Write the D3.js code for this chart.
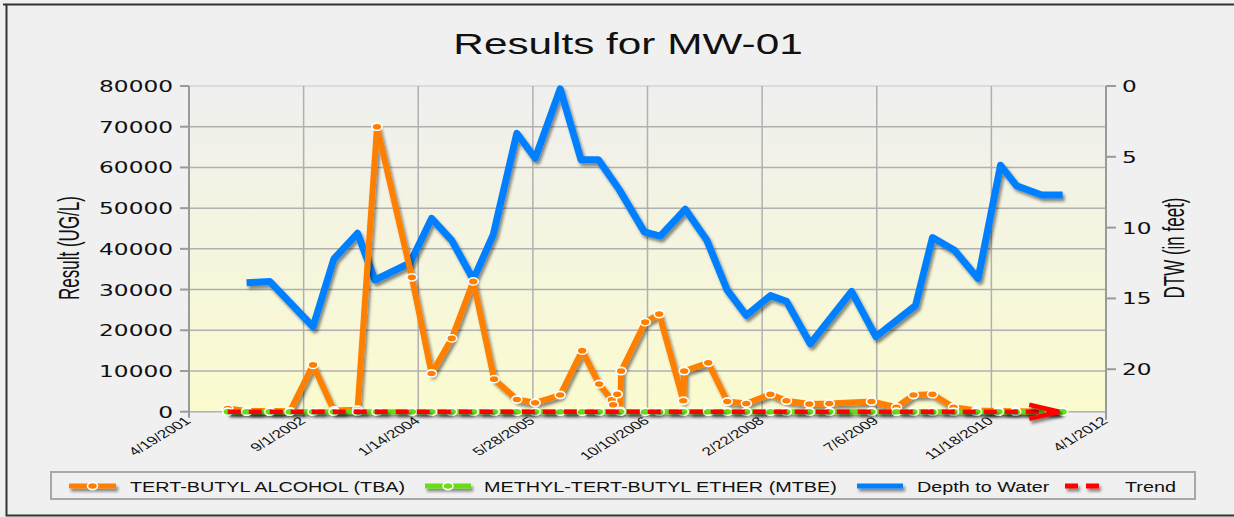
<!DOCTYPE html>
<html><head><meta charset="utf-8">
<script src="https://cdn.jsdelivr.net/npm/d3@7"></script>
<style>body{margin:0;background:#f0f0f0}svg{display:block}text{font-family:"Liberation Sans",Arial,sans-serif;fill:#111}</style>
</head><body><svg id="c" width="1234" height="517"></svg>
<script>
const titleText = "Results for MW-01";
const leftAxisTitle = "Result (UG/L)";
const rightAxisTitle = "DTW (in feet)";
const xTickDates = ["2001-04-19","2002-09-01","2004-01-14","2005-05-28","2006-10-10","2008-02-22","2009-07-06","2010-11-18","2012-04-01"];
const leftTicks = [0,10000,20000,30000,40000,50000,60000,70000,80000];
const rightTicks = [0,5,10,15,20];
const seriesNames = ["TERT-BUTYL ALCOHOL (TBA)","METHYL-TERT-BUTYL ETHER (MTBE)","Depth to Water","Trend"];

const tbaDates = ["2001-10-05","2001-12-26","2002-04-06","2002-07-03","2002-10-12","2003-01-11","2003-04-24","2003-07-18","2003-12-17","2004-03-12","2004-06-08","2004-09-10","2004-12-10","2005-03-19","2005-06-07","2005-09-24","2005-12-29","2006-03-13","2006-05-07","2006-05-13","2006-05-31","2006-06-13","2006-06-17","2006-09-30","2006-11-30","2007-03-15","2007-03-19","2007-07-02","2007-09-23","2007-12-15","2008-03-29","2008-06-07","2008-09-15","2008-12-11","2009-06-13","2009-09-30","2009-12-13","2010-03-06","2010-06-06","2010-09-14","2010-12-19","2011-03-04","2011-06-21"];
const tbaValues = [800,200,150,100,11500,300,500,70000,33000,9400,18000,32000,8000,3000,2200,4100,15000,6800,2900,1700,4300,200,10000,22000,24000,2700,10000,12000,2500,2000,4300,2700,1900,2000,2500,1100,4100,4300,1100,300,200,100,50];

const mtbeDates = ["2001-10-05","2001-12-26","2002-04-06","2002-07-03","2002-10-12","2003-01-11","2003-04-24","2003-07-18","2003-12-17","2004-03-12","2004-06-08","2004-09-10","2004-12-10","2005-03-19","2005-06-07","2005-09-24","2005-12-29","2006-03-13","2006-06-13","2006-09-30","2006-11-30","2007-03-15","2007-07-02","2007-09-23","2007-12-15","2008-03-29","2008-06-07","2008-09-15","2008-12-11","2009-06-13","2009-09-30","2009-12-13","2010-03-06","2010-06-06","2010-09-14","2010-12-19","2011-03-04","2011-06-21","2011-09-25"];
const mtbeValues = [0,0,0,0,0,0,0,0,0,0,0,0,0,0,0,0,0,0,0,0,0,0,0,0,0,0,0,0,0,0,0,0,0,0,0,0,0,0,0];

const dtwDates = ["2001-12-26","2002-04-06","2002-10-12","2003-01-11","2003-04-24","2003-07-09","2003-12-09","2004-03-12","2004-06-08","2004-09-10","2004-12-06","2005-03-19","2005-06-07","2005-09-24","2005-12-24","2006-03-10","2006-06-08","2006-09-26","2006-12-04","2007-03-24","2007-06-26","2007-09-22","2007-12-15","2008-03-29","2008-06-07","2008-09-19","2009-03-18","2009-07-02","2009-12-22","2010-03-06","2010-06-10","2010-09-21","2010-12-28","2011-03-08","2011-06-25","2011-09-25"];
const dtwValues = [13.9,13.8,17.0,12.2,10.4,13.7,12.5,9.35,10.9,13.66,10.5,3.34,5.1,0.2,5.2,5.2,7.3,10.3,10.6,8.7,10.9,14.4,16.2,14.8,15.2,18.2,14.5,17.7,15.5,10.7,11.6,13.6,5.6,7.05,7.7,7.7];

const trendDates = ["2001-10-05","2011-09-10"];
const trendValues = [0,0];

const colors = {tba:"#ff8000", mtbe:"#66e010", dtw:"#0080ff", trend:"#ff0000"};

const parse = d3.timeParse("%Y-%m-%d");
const fmt = d => (d.getMonth()+1)+"/"+d.getDate()+"/"+d.getFullYear();
const svg = d3.select("#c");
const W = 1234, H = 517;
const L = 189, R = 1106, T = 86, B = 411.7;

const x = d3.scaleTime().domain([parse(xTickDates[0]), parse(xTickDates[xTickDates.length-1])]).range([L, R]);
const yL = d3.scaleLinear().domain([0, 80000]).range([B, T]);
const yR = d3.scaleLinear().domain([0, 23]).range([T, B]);

const defs = svg.append("defs");
const grad = defs.append("linearGradient").attr("id","bg").attr("x1",0).attr("y1",0).attr("x2",0).attr("y2",1);
grad.append("stop").attr("offset","0%").attr("stop-color","#efefef");
grad.append("stop").attr("offset","100%").attr("stop-color","#fbfbcf");
const f = defs.append("filter").attr("id","sh").attr("filterUnits","userSpaceOnUse")
  .attr("x",0).attr("y",0).attr("width",W).attr("height",H);
f.append("feDropShadow").attr("dx",2).attr("dy",3).attr("stdDeviation",1.6).attr("flood-color","#000").attr("flood-opacity",0.45);

svg.append("rect").attr("width",W).attr("height",H).attr("fill","#f0f0f0");
svg.append("path").attr("d",`M3,4.5H1234M6.5,4V515.5H1234`).attr("fill","none").attr("stroke","#333").attr("stroke-width",2);

function stretchText(parent, px, py, str, size, anchor, rot, family, s) {
  const g = parent.append("g").attr("transform", `translate(${px},${py}) scale(${s||1.5},1)` + (rot ? ` rotate(${rot})` : ""));
  const t = g.append("text").attr("text-anchor", anchor).attr("font-size", size).text(str);
  if (family) t.style("font-family", family);
  return t;
}

// title
stretchText(svg, 628, 54, titleText, 30, "middle", 0, null, 1.41);

// plot background
svg.append("rect").attr("x",L).attr("y",T).attr("width",R-L).attr("height",B-T).attr("fill","url(#bg)");

// grid
const grid = svg.append("g").attr("stroke","#b0b0b0").attr("stroke-width",1.5);
grid.selectAll(".h").data(leftTicks).join("line")
  .attr("x1",L).attr("x2",R).attr("y1",d=>yL(d)).attr("y2",d=>yL(d))
  .attr("stroke", d => d===80000 ? "#d4d4d4" : "#b0b0b0");
grid.selectAll(".v").data(xTickDates.map(parse)).join("line")
  .attr("x1",d=>x(d)).attr("x2",d=>x(d)).attr("y1",T).attr("y2",B+5);

// axes
const ax = svg.append("g").attr("stroke","#9a9a9a").attr("stroke-width",2);
ax.append("line").attr("x1",L).attr("x2",L).attr("y1",T).attr("y2",B+6);
ax.selectAll(".lt").data(leftTicks).join("line").attr("x1",L-9).attr("x2",L).attr("y1",d=>yL(d)).attr("y2",d=>yL(d));
ax.append("line").attr("x1",R).attr("x2",R).attr("y1",T).attr("y2",B+8);
ax.selectAll(".rt").data(rightTicks).join("line").attr("x1",R).attr("x2",R+10).attr("y1",d=>yR(d)).attr("y2",d=>yR(d));

const lab = svg.append("g");
leftTicks.forEach(v => stretchText(lab, L-16, yL(v)+6, String(v), 15.5, "end", 0, "DejaVu Sans"));
rightTicks.forEach(v => stretchText(lab, R+16, yR(v)+6, String(v), 15.5, "start", 0, "DejaVu Sans"));
xTickDates.forEach(s => stretchText(lab, x(parse(s))+3, 422, fmt(parse(s)), 11.5, "end", -42));

// axis titles
stretchText(svg, 79, 248, leftAxisTitle, 17, "middle", -90, null, 1.75);
stretchText(svg, 1184, 248, rightAxisTitle, 17, "middle", -90, null, 1.75);

// series
const lineL = d3.line().x(d=>x(d.d)).y(d=>yL(d.v));
const lineR = d3.line().x(d=>x(d.d)).y(d=>yR(d.v));
const tba = tbaDates.map((s,i)=>({d:parse(s), v:tbaValues[i]}));
const mtbe = mtbeDates.map((s,i)=>({d:parse(s), v:mtbeValues[i]}));
const dtw = dtwDates.map((s,i)=>({d:parse(s), v:dtwValues[i]}));
const trend = trendDates.map((s,i)=>({d:parse(s), v:trendValues[i]}));

const plot = svg.append("g");
plot.append("path").datum(dtw).attr("d",lineR).attr("fill","none").attr("stroke",colors.dtw).attr("stroke-width",7).attr("stroke-linejoin","round").attr("filter","url(#sh)");
plot.append("path").datum(tba).attr("d",lineL).attr("fill","none").attr("stroke",colors.tba).attr("stroke-width",6).attr("stroke-linejoin","round").attr("filter","url(#sh)");
plot.append("g").selectAll("ellipse").data(tba).join("ellipse")
  .attr("cx",d=>x(d.d)).attr("cy",d=>yL(d.v)).attr("rx",5).attr("ry",3.6)
  .attr("fill",colors.tba).attr("stroke","#fff").attr("stroke-width",1.6);
plot.append("path").datum(mtbe).attr("d",lineL).attr("fill","none").attr("stroke",colors.mtbe).attr("stroke-width",5).attr("filter","url(#sh)");
plot.append("g").selectAll("ellipse").data(mtbe).join("ellipse")
  .attr("cx",d=>x(d.d)).attr("cy",d=>yL(d.v)).attr("rx",5).attr("ry",3.6)
  .attr("fill",colors.mtbe).attr("stroke","#fff").attr("stroke-width",1.6);
plot.append("path").datum(trend).attr("d",lineL).attr("fill","none").attr("stroke",colors.trend).attr("stroke-width",4.5).attr("stroke-dasharray","13,8").attr("filter","url(#sh)");
const tEnd = trend[trend.length-1];
const ex = x(tEnd.d), ey = yL(tEnd.v);
plot.append("path").attr("d",`M${ex-30},${ey-7}L${ex},${ey}L${ex-30},${ey+7}`).attr("fill","none")
  .attr("stroke",colors.trend).attr("stroke-width",4.5).attr("stroke-linejoin","miter").attr("filter","url(#sh)");

// legend
const lg = svg.append("g");
lg.append("rect").attr("x",51).attr("y",472).attr("width",1144).attr("height",27).attr("fill","none").attr("stroke","#a8a8a8").attr("stroke-width",2);
const ly = 486;
const items = [
  {x1:69, x2:116, c:colors.tba, marker:true, tx:130},
  {x1:425, x2:471, c:colors.mtbe, marker:true, tx:484},
  {x1:857, x2:903, c:colors.dtw, marker:false, tx:917},
  {x1:1065, x2:1103, c:colors.trend, dash:true, tx:1125}
];
items.forEach((it,i) => {
  lg.append("line").attr("x1",it.x1).attr("x2",it.x2).attr("y1",ly).attr("y2",ly)
    .attr("stroke",it.c).attr("stroke-width",5).attr("stroke-dasharray", it.dash ? "13,8" : null).attr("filter","url(#sh)");
  if (it.marker) lg.append("ellipse").attr("cx",(it.x1+it.x2)/2).attr("cy",ly).attr("rx",5).attr("ry",3.6)
    .attr("fill",it.c).attr("stroke","#fff").attr("stroke-width",1.6);
  stretchText(lg, it.tx, ly+5.5, seriesNames[i], 15, "start", 0, null, 1.32);
});
</script></body></html>
